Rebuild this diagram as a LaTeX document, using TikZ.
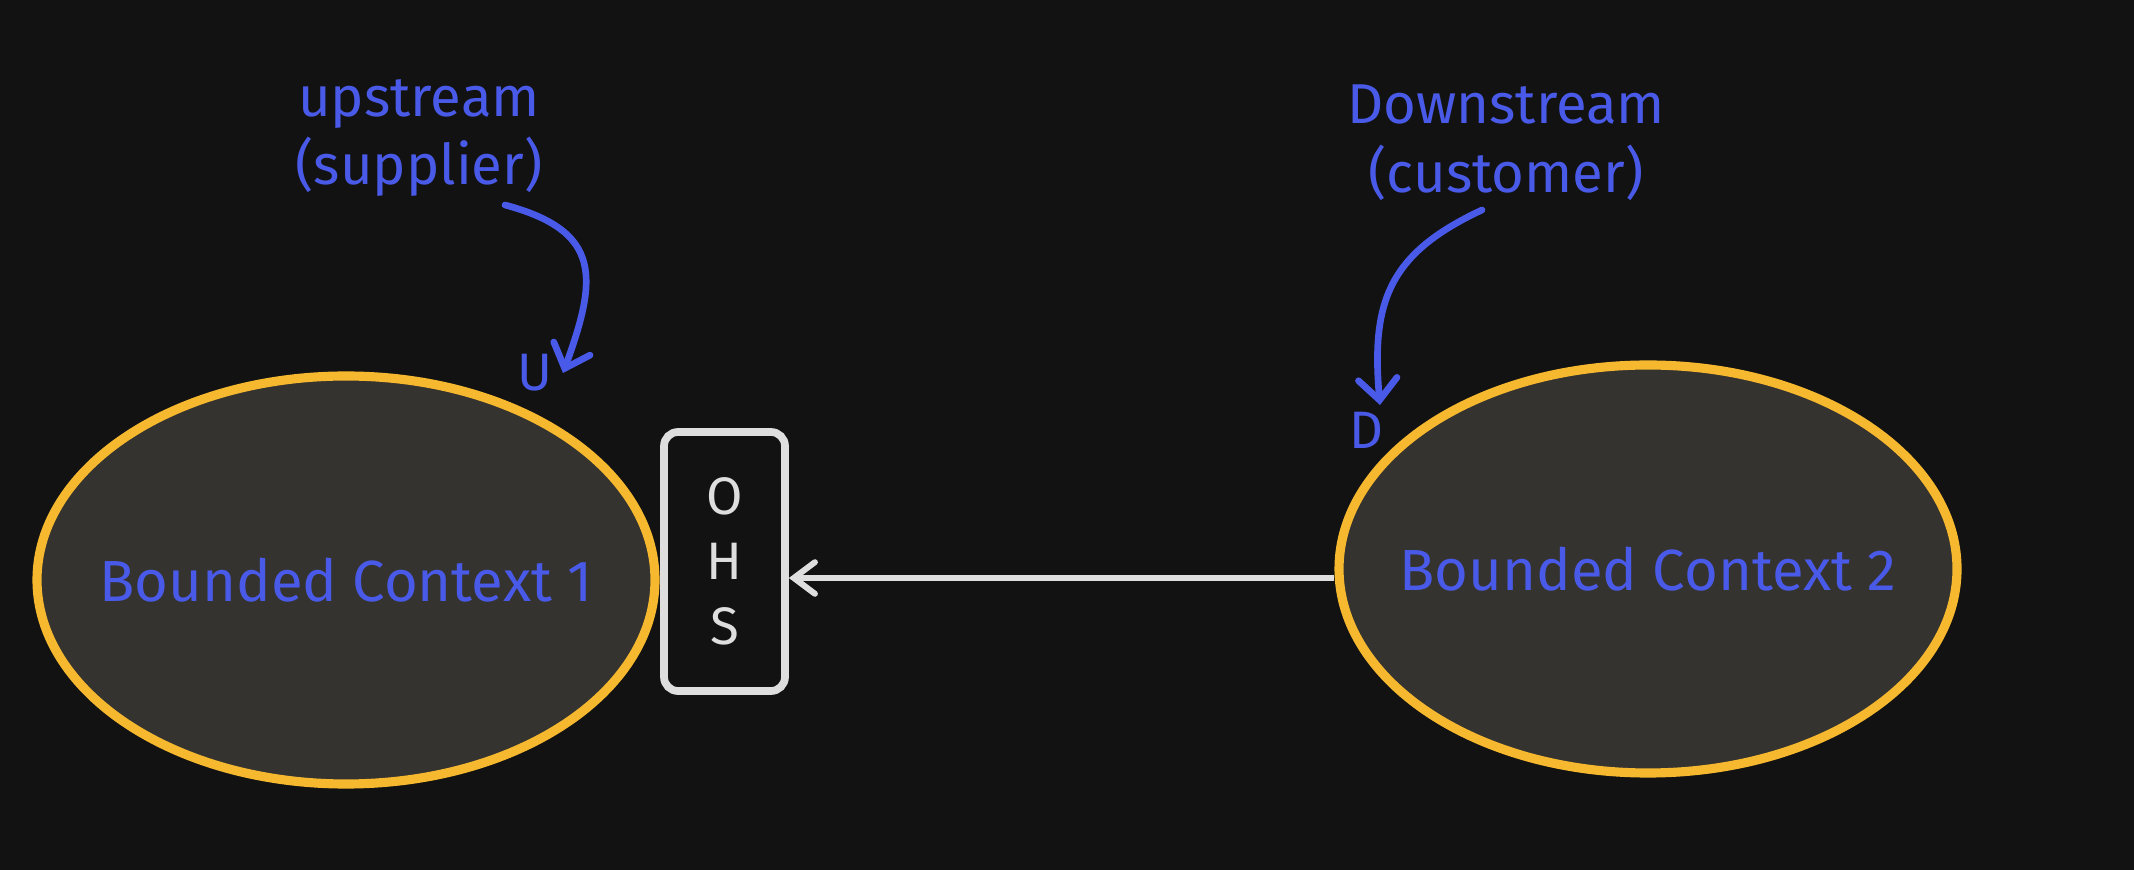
\documentclass[tikz,border=0pt]{standalone}
\usepackage{fontspec}
\setmainfont{Fira Sans}
\usetikzlibrary{shapes.geometric,arrows.meta}
\definecolor{bgdark}{HTML}{121212}
\definecolor{ctxfill}{HTML}{35332F}
\definecolor{ctxline}{HTML}{F5B82E}
\definecolor{noteblue}{HTML}{4A5AE8}
\definecolor{ohsline}{HTML}{DEDEDE}

\begin{document}
\begin{tikzpicture}[%
context/.style={ellipse,draw=ctxline,fill=ctxfill,line width=2.6pt,minimum width=6.18cm,minimum height=4.08cm,inner sep=0pt,label={[text=noteblue,font=\fontsize{16.5}{19}\selectfont]center:#1}},
note/.style={text=noteblue,align=center,font=\fontsize{16}{19.6}\selectfont},
side/.style={text=noteblue,font=\fontsize{15}{17}\selectfont},
curvearrow/.style={noteblue,line width=1.9pt,line cap=round,-{Straight Barb[length=6pt,width=11pt,line cap=round]}}]
\fill[bgdark] (0,0) rectangle (21.34,-8.70);
\useasboundingbox (0,0) rectangle (21.34,-8.70);
% the two bounded contexts
\node[context={Bounded Context 1}] (bc1) at (3.46,-5.80) {};
\node[context={Bounded Context 2}] (bc2) at (16.48,-5.69) {};
% open host service
\node[draw=ohsline,fill=bgdark,line width=2.2pt,rounded corners=4pt,minimum width=1.21cm,minimum height=2.59cm,inner sep=0pt,align=center,text=ohsline,font=\fontsize{15}{18.5}\selectfont] (ohs) at (7.245,-5.615) {O\\H\\S};
\draw[ohsline,line width=1.7pt,-{Straight Barb[length=6pt,width=9pt,line cap=round]}] ([yshift=-0.09cm]bc2.west) -- ([yshift=-0.09cm]bc2.west -| ohs.east);
% upstream / downstream notes
\node[note] (up) at (4.19,-1.38) {upstream\\(supplier)};
\node[note] (down) at (15.06,-1.43) {Downstream\\(customer)};
\node[side] (u) at (5.35,-3.73) {U};
\node[side] (d) at (13.66,-4.30) {D};
\coordinate (uptail) at (5.05,-2.05);
\coordinate (uptip) at (5.63,-3.73);
\coordinate (downtail) at (14.82,-2.10);
\coordinate (downtip) at (13.80,-4.05);
\draw[curvearrow] (uptail) to[out=-15,in=70,looseness=1.45] (uptip);
\draw[curvearrow] (downtail) to[out=-155,in=95,looseness=1.2] (downtip);
\end{tikzpicture}
\end{document}
